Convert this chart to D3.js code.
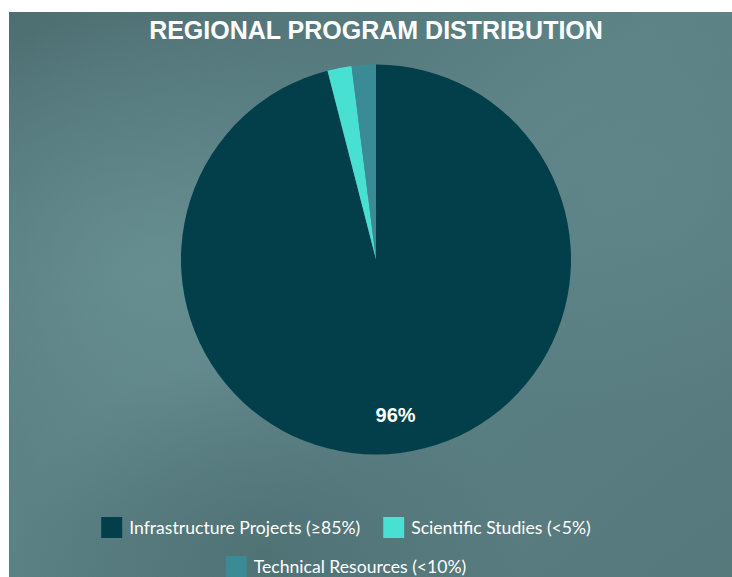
<!DOCTYPE html>
<html>
<head>
<meta charset="utf-8">
<script src="https://cdn.jsdelivr.net/npm/d3@7"></script>
<style>
  html, body { margin: 0; padding: 0; background: #fff; overflow: hidden; }
  svg { display: block; }
</style>
</head>
<body>
<svg id="chart" width="732" height="577"></svg>
<script>
// data
const categories = ["Infrastructure Projects", "Scientific Studies", "Technical Resources"];
const legendLabels = ["Infrastructure Projects (\u226585%)", "Scientific Studies (<5%)", "Technical Resources (<10%)"];
const values = [96, 2, 2];
const colors = ["#023f4a", "#47e0d2", "#3a8b95"];

const svg = d3.select("#chart");
const width = 732, height = 577;

// background
const defs = svg.append("defs");
const bgLin = defs.append("linearGradient").attr("id", "bgLin")
    .attr("x1", 0).attr("y1", 0).attr("x2", 1).attr("y2", 1);
bgLin.append("stop").attr("offset", "0%").attr("stop-color", "#4d6f72");
bgLin.append("stop").attr("offset", "45%").attr("stop-color", "#5c8285");
bgLin.append("stop").attr("offset", "100%").attr("stop-color", "#55787b");

const glow = defs.append("radialGradient").attr("id", "glow")
    .attr("cx", 0.2).attr("cy", 0.45).attr("r", 0.45);
glow.append("stop").attr("offset", "0%").attr("stop-color", "#6a9294").attr("stop-opacity", 0.8);
glow.append("stop").attr("offset", "100%").attr("stop-color", "#6a9294").attr("stop-opacity", 0);

const glow2 = defs.append("radialGradient").attr("id", "glow2")
    .attr("cx", 0.85).attr("cy", 0.3).attr("r", 0.4);
glow2.append("stop").attr("offset", "0%").attr("stop-color", "#64898c").attr("stop-opacity", 0.6);
glow2.append("stop").attr("offset", "100%").attr("stop-color", "#64898c").attr("stop-opacity", 0);

const shade = defs.append("radialGradient").attr("id", "shade")
    .attr("cx", 0.35).attr("cy", 0.95).attr("r", 0.35);
shade.append("stop").attr("offset", "0%").attr("stop-color", "#4b6d70").attr("stop-opacity", 0.7);
shade.append("stop").attr("offset", "100%").attr("stop-color", "#4b6d70").attr("stop-opacity", 0);

const bg = svg.append("g").attr("transform", "translate(9,12)");
bg.append("rect").attr("width", width).attr("height", height).attr("fill", "url(#bgLin)");
bg.append("rect").attr("width", width).attr("height", height).attr("fill", "url(#glow)");
bg.append("rect").attr("width", width).attr("height", height).attr("fill", "url(#glow2)");
bg.append("rect").attr("width", width).attr("height", height).attr("fill", "url(#shade)");

// title
svg.append("text")
    .attr("x", 376).attr("y", 39)
    .attr("text-anchor", "middle")
    .attr("font-family", "Liberation Sans, Arial, sans-serif")
    .attr("font-weight", "bold")
    .attr("font-size", 25)
    .attr("fill", "#ffffff")
    .text("REGIONAL PROGRAM DISTRIBUTION");

// pie
const cx = 376, cy = 259.5, radius = 195;
const pie = d3.pie().sort(null).value(d => d);
const arc = d3.arc().innerRadius(0).outerRadius(radius);
const labelArc = d3.arc().innerRadius(radius * 0.8).outerRadius(radius * 0.8);
const total = d3.sum(values);

const g = svg.append("g").attr("transform", `translate(${cx},${cy})`);
const arcs = pie(values);

g.selectAll("path")
    .data(arcs)
    .enter().append("path")
    .attr("d", arc)
    .attr("fill", (d, i) => colors[i]);

// only label slices big enough
g.selectAll("text.pct")
    .data(arcs.filter(d => d.data / total > 0.05))
    .enter().append("text")
    .attr("class", "pct")
    .attr("transform", d => `translate(${labelArc.centroid(d)})`)
    .attr("text-anchor", "middle")
    .attr("dy", "0.4em")
    .attr("font-family", "Liberation Sans, Arial, sans-serif")
    .attr("font-weight", "bold")
    .attr("font-size", 20)
    .attr("fill", "#ffffff")
    .text(d => Math.round(d.data / total * 100) + "%");

// legend
const legendFont = "Lato, 'Noto Sans', sans-serif";
const legendSize = 17.6;
const box = 21, boxGap = 7, itemGap = 23;
const legendCenter = 346;
const rows = [[0, 1], [2]];
const rowY = [517, 556];

const legend = svg.append("g");
rows.forEach((row, r) => {
    const rowG = legend.append("g");
    let x = 0;
    row.forEach(i => {
        const item = rowG.append("g").attr("transform", `translate(${x},0)`);
        item.append("rect")
            .attr("width", box).attr("height", box)
            .attr("fill", colors[i]);
        const t = item.append("text")
            .attr("x", box + boxGap).attr("y", box / 2)
            .attr("dy", "0.35em")
            .attr("font-family", legendFont)
            .attr("font-size", legendSize)
            .attr("fill", "#ffffff")
            .text(legendLabels[i]);
        x += box + boxGap + t.node().getComputedTextLength() + itemGap;
    });
    const rowW = x - itemGap;
    rowG.attr("transform", `translate(${legendCenter - rowW / 2},${rowY[r]})`);
});
</script>
</body>
</html>
